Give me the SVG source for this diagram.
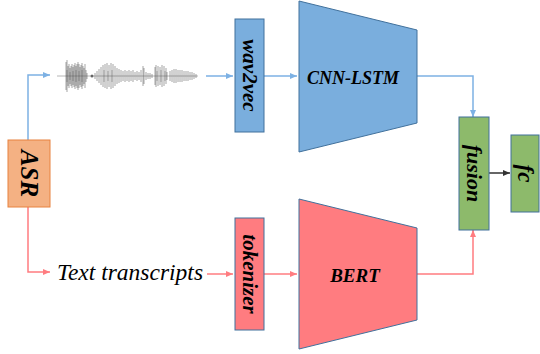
<svg xmlns="http://www.w3.org/2000/svg" width="540" height="354" viewBox="0 0 540 354">
<style>
.lbl{font-family:"Liberation Serif","Times New Roman",serif;font-weight:bold;font-style:italic;fill:#000;text-anchor:middle;dominant-baseline:central}
.blue{fill:#7AAEDD;stroke:#41719C;stroke-width:1}
.red{fill:#FF7C80;stroke:#41719C;stroke-width:1}
.green{fill:#8DBA6B;stroke:#41719C;stroke-width:1}
.cb{fill:none;stroke:#7DB1E4;stroke-width:1.5}
.cr{fill:none;stroke:#FF7C80;stroke-width:1.5}
.ck{fill:none;stroke:#333;stroke-width:1.5}
</style>
<defs>
<marker id="ab" markerUnits="userSpaceOnUse" markerWidth="8" markerHeight="8" refX="7" refY="4" orient="auto"><path d="M0,1 L7,4 L0,7 Z" fill="#7DB1E4"/></marker>
<marker id="ar" markerUnits="userSpaceOnUse" markerWidth="8" markerHeight="8" refX="7" refY="4" orient="auto"><path d="M0,1 L7,4 L0,7 Z" fill="#FF7C80"/></marker>
<marker id="ak" markerUnits="userSpaceOnUse" markerWidth="8" markerHeight="8" refX="7" refY="4" orient="auto"><path d="M0,1 L7,4 L0,7 Z" fill="#333"/></marker>
<filter id="blur" x="-5%" y="-20%" width="110%" height="140%"><feGaussianBlur stdDeviation="0.6"/></filter>
</defs>
<g id="connectors">
<path class="cb" d="M28,140 V75 H50" marker-end="url(#ab)"/>
<path class="cb" d="M206,76 H233" marker-end="url(#ab)"/>
<path class="cb" d="M264,76 H297" marker-end="url(#ab)"/>
<path class="cb" d="M413,76 H473 V117" marker-end="url(#ab)"/>
<path class="cr" d="M28,207 V272 H50" marker-end="url(#ar)"/>
<path class="cr" d="M207,274 H233" marker-end="url(#ar)"/>
<path class="cr" d="M264,274 H297" marker-end="url(#ar)"/>
<path class="cr" d="M413,274 H473 V230" marker-end="url(#ar)"/>
<path class="ck" d="M489,173 H510" marker-end="url(#ak)"/>
</g>
<g id="waveform" filter="url(#blur)">
<path d="M57,76 H198" stroke="#888" stroke-width="1" opacity="0.6"/>
<path stroke="#444" stroke-width="1.1" opacity="0.45" fill="none" d="M66,62V90 M67,60V92 M68,66V86 M69,64V88 M70,68V84 M71,66V86 M72,64V88 M73,67V85 M74,65V87 M75,63V89 M76,66V86 M77,64V88 M78,62V90 M79,64V88 M80,67V85 M81,65V87 M82,63V89 M83,66V86 M84,68V84 M85,64V88 M86,70V82 M87,73V79 M95,73V79 M97,71V81 M99,69V83 M101,67V85 M103,65V87 M105,64V88 M107,63V89 M109,65V87 M111,63V89 M113,64V88 M115,66V86 M117,68V84 M119,69V83 M121,70V82 M123,71V81 M125,70V82 M127,71V81 M129,70V82 M131,71V81 M133,70V82 M135,72V80 M137,71V81 M139,72V80 M141,70V82 M143,66V86 M144,68V84 M146,72V80 M148,73V79 M150,73V79 M152,74V78 M155,67V85 M156,65V87 M158,66V86 M160,67V85 M162,65V87 M164,66V86 M166,68V84 M167,72V80 M170,71V81 M172,70V82 M174,69V83 M176,69V83 M178,70V82 M180,70V82 M182,70V82 M184,71V81 M186,71V81 M188,71V81 M190,72V80 M192,72V80 M194,73V79 M196,74V78"/>
<path stroke="#444" stroke-width="1.1" opacity="0.35" fill="none" d="M67,70V82 M70,72V80 M73,71V81 M76,70V82 M79,71V81 M82,70V82 M104,70V82 M108,71V81 M112,70V82 M157,71V81 M161,70V82 M165,71V81"/>
<circle cx="92" cy="76" r="1.5" fill="#333" opacity="0.7"/>
</g>
<g id="asr">
<rect x="8" y="140" width="42" height="67" fill="#F4B183" stroke="#E8823F" stroke-width="1"/>
<text class="lbl" x="29" y="173.5" font-size="25" transform="rotate(90 29 173.5)">ASR</text>
</g>
<g id="wav2vec">
<rect class="blue" x="235" y="19" width="29" height="113"/>
<text class="lbl" x="249.5" y="75.5" font-size="21" transform="rotate(90 249.5 75.5)">wav2vec</text>
</g>
<g id="cnn-lstm">
<polygon class="blue" points="299,1 417,30 417,123 299,152" stroke-width="0.8"/>
<text class="lbl" x="353" y="78" font-size="18">CNN-LSTM</text>
</g>
<g id="text-transcripts">
<text x="57" y="280" font-family="Liberation Serif,'Times New Roman',serif" font-style="italic" font-size="23.5" fill="#000">Text transcripts</text>
</g>
<g id="tokenizer">
<rect class="red" x="235" y="218" width="29" height="112"/>
<text class="lbl" x="249.5" y="274" font-size="21" transform="rotate(90 249.5 274)">tokenizer</text>
</g>
<g id="bert">
<polygon class="red" points="299,199 417,228 417,320 299,349" stroke-width="0.8"/>
<text class="lbl" x="355" y="275" font-size="19">BERT</text>
</g>
<g id="fusion">
<rect class="green" x="459" y="117" width="30" height="113"/>
<text class="lbl" x="474" y="173.5" font-size="22" transform="rotate(90 474 173.5)">fusion</text>
</g>
<g id="fc">
<rect class="green" x="511" y="135" width="28" height="77"/>
<text class="lbl" x="525" y="173.5" font-size="23" transform="rotate(90 525 173.5)">fc</text>
</g>
</svg>
